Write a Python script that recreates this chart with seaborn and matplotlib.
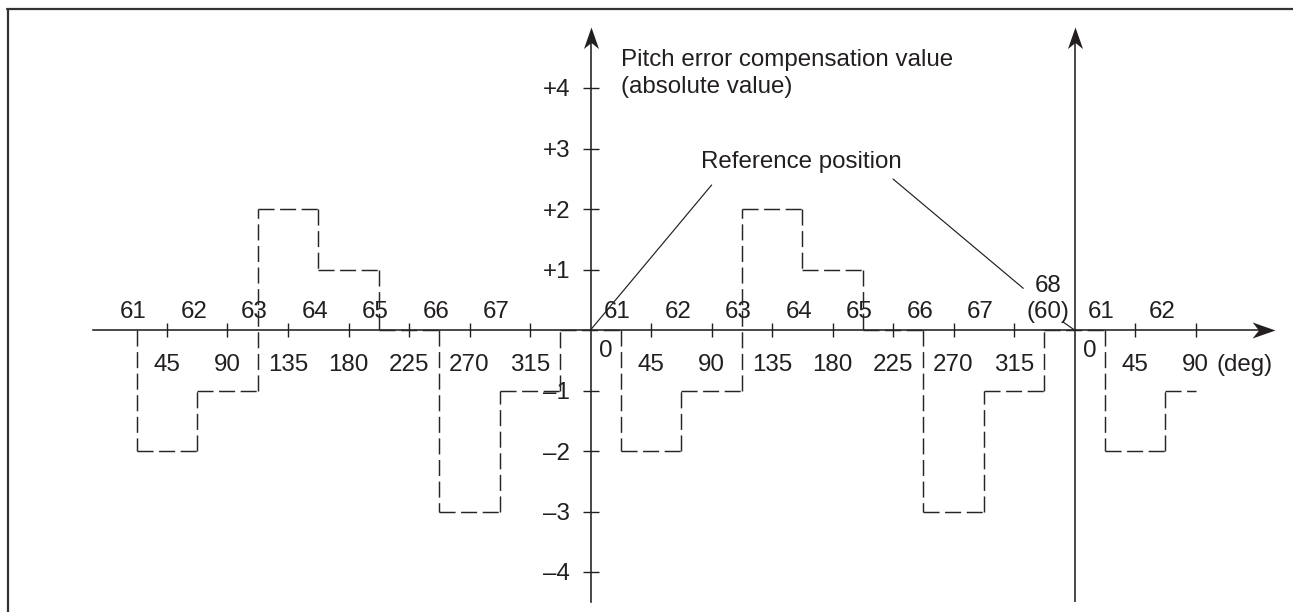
import numpy as np
import pandas as pd
import matplotlib
matplotlib.use("Agg")
import matplotlib.pyplot as plt
import seaborn as sns
from matplotlib.path import Path
from matplotlib.lines import Line2D

# ---------------- data ----------------
# start angle (deg) of each compensation interval and its value
step_start_deg = [-337.5, -292.5, -247.5, -202.5, -157.5, -112.5, -67.5, -22.5,
                  22.5, 67.5, 112.5, 157.5, 202.5, 247.5, 292.5, 337.5,
                  382.5, 427.5]
step_end_deg = 450.0
comp_value = [-2, -1, 2, 1, 0, -3, -1, 0,
              -2, -1, 2, 1, 0, -3, -1, 0,
              -2, -1]

# compensation point numbers written above the axis
point_pos_deg = [-337.5, -292.5, -247.5, -202.5, -157.5, -112.5, -67.5,
                 22.5, 67.5, 112.5, 157.5, 202.5, 247.5, 292.5,
                 382.5, 427.5]
point_labels = ["61", "62", "63", "64", "65", "66", "67",
                "61", "62", "63", "64", "65", "66", "67",
                "61", "62"]
ref_point_pos_deg = 337.5
ref_point_label = ["68", "(60)"]

# angle ticks on the horizontal axis
angle_ticks = [-315, -270, -225, -180, -135, -90, -45,
               45, 90, 135, 180, 225, 270, 315, 405, 450]
angle_tick_labels = ["45", "90", "135", "180", "225", "270", "315",
                     "45", "90", "135", "180", "225", "270", "315",
                     "45", "90"]

# value ticks on the vertical axis
value_ticks = [4, 3, 2, 1, -1, -2, -3, -4]
value_tick_labels = ["+4", "+3", "+2", "+1", "\u20131", "\u20132", "\u20133", "\u20134"]

axis_origins_deg = [0, 360]

# ---------------- style ----------------
sns.set_theme(style="white")
plt.rcParams["font.family"] = ["Liberation Sans", "DejaVu Sans"]
INK = "#231f20"
DASH = "#262626"
FS = 17.4

PX_PER_UNIT = 60.5
PX_PER_DEG = 60.5 / 45.0
X0_PX, Y0_PX = 590.5, 330.0
W, H = 1293, 612

fig = plt.figure(figsize=(W / 100, H / 100), dpi=100)
fig.patch.set_facecolor("white")
ax = fig.add_axes([0, 0, 1, 1])
ax.set_facecolor("none")

# ---------------- staircase (dashed) ----------------
rows = []
seg = 0
prev = 0
ends = step_start_deg[1:] + [step_end_deg]
for s, e, v in zip(step_start_deg, ends, comp_value):
    rows += [(seg, s, prev), (seg, s, v)]
    seg += 1
    rows += [(seg, s, v), (seg, e, v)]
    seg += 1
    prev = v
df = pd.DataFrame(rows, columns=["seg", "angle", "value"])
sns.lineplot(data=df, x="angle", y="value", units="seg", estimator=None,
             sort=False, color=DASH, linewidth=1.05,
             linestyle=(0, (11.0, 3.8)), ax=ax, zorder=3)
ax.set(xlabel="", ylabel="")

# ---------------- axes ----------------
ax.set_xlim(-X0_PX / PX_PER_DEG, (W - X0_PX) / PX_PER_DEG)
ax.set_ylim(-(H - Y0_PX) / PX_PER_UNIT, Y0_PX / PX_PER_UNIT)

x_axis_left = -370
x_axis_tip = 509
y_axis_bottom = -4.5
y_axis_tip = 5.013

for side in ["top", "right"]:
    ax.spines[side].set_visible(False)
for side in ["left", "bottom"]:
    ax.spines[side].set_color(INK)
    ax.spines[side].set_linewidth(1.15)
    ax.spines[side].set_zorder(2.5)
ax.spines["left"].set_position(("data", 0))
ax.spines["bottom"].set_position(("data", 0))
ax.spines["left"].set_bounds(y_axis_bottom, y_axis_tip - 0.2)
ax.spines["bottom"].set_bounds(x_axis_left, x_axis_tip - 10)

ax.set_yticks(value_ticks, value_tick_labels)
ax.set_xticks(angle_ticks, angle_tick_labels)
ax.tick_params(axis="y", direction="inout", length=11.5, width=1.0,
               pad=9, labelsize=FS, colors=INK, left=True)
ax.tick_params(axis="x", direction="inout", length=10, width=1.0,
               pad=12, labelsize=FS, colors=INK, bottom=True)
ax.grid(False)

# second vertical axis at 360 deg
ax.vlines(axis_origins_deg[1], y_axis_bottom, y_axis_tip - 0.2,
          color=INK, linewidth=1.15, zorder=2.5)

# arrow heads
right_head = Path([(0, 0), (-1, 0.35), (-0.72, 0), (-1, -0.35), (0, 0)],
                  [Path.MOVETO, Path.LINETO, Path.LINETO, Path.LINETO, Path.CLOSEPOLY])
up_head = Path([(0, 0), (0.35, -1), (0, -0.72), (-0.35, -1), (0, 0)],
               [Path.MOVETO, Path.LINETO, Path.LINETO, Path.LINETO, Path.CLOSEPOLY])
ax.plot([x_axis_tip], [0], marker=right_head, ms=33, color=INK, mew=0, zorder=4)
ax.plot(axis_origins_deg, [y_axis_tip] * 2, ls="none", marker=up_head, ms=31,
        color=INK, mew=0, zorder=4)

# ---------------- texts ----------------
for x, lab in zip(point_pos_deg, point_labels):
    ax.text(x - 2.5, 0.203, lab, ha="center", va="baseline", fontsize=FS, color=INK)
ax.text(ref_point_pos_deg + 2.8, 0.633, ref_point_label[0], ha="center",
        va="baseline", fontsize=FS, color=INK)
ax.text(ref_point_pos_deg + 2.8, 0.203, ref_point_label[1], ha="center",
        va="baseline", fontsize=FS, color=INK)

for x0 in axis_origins_deg:
    ax.text(x0 + 11.5, -0.347, "0", ha="center", va="center", fontsize=FS, color=INK)

ax.text(465.5, -0.673, "(deg)", ha="left", va="baseline", fontsize=FS, color=INK)

ax.text(22.7, 4.364, "Pitch error compensation value", ha="left",
        va="baseline", fontsize=FS, color=INK)
ax.text(22.7, 3.912, "(absolute value)", ha="left", va="baseline",
        fontsize=FS, color=INK)

ax.text(157.1, 2.673, "Reference position", ha="center", va="baseline",
        fontsize=FS, color=INK)

# leader lines
line_kw = dict(arrowprops=dict(arrowstyle="-", color=INK, lw=0.85,
                               shrinkA=0, shrinkB=0))
ax.annotate("", xy=(0, 0), xytext=(90.1, 2.397), **line_kw)
ax.annotate("", xy=(321.9, 0.689), xytext=(225.0, 2.496), **line_kw)
ax.annotate("", xy=(360, 0), xytext=(351.5, 0.132), **line_kw)

# ---------------- page frame ----------------
fig.add_artist(Line2D([7 / W, 1.0], [1 - 9 / H] * 2, transform=fig.transFigure,
                      color="#333333", linewidth=1.6))
fig.add_artist(Line2D([8 / W] * 2, [0.0, 1 - 8.5 / H], transform=fig.transFigure,
                      color="#333333", linewidth=1.6))

fig.savefig("out.png", dpi=100, facecolor="white")
